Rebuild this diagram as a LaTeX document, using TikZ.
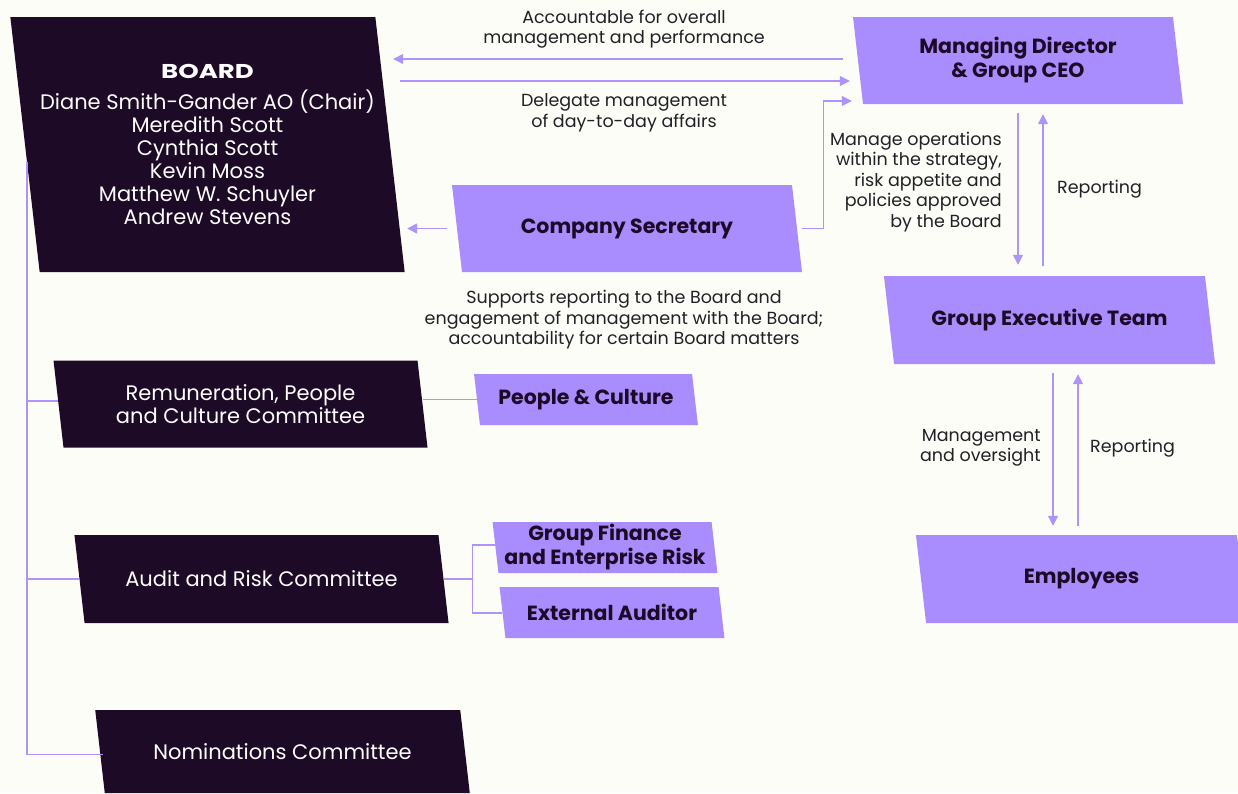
\documentclass[tikz,border=0pt]{standalone}
\usepackage{fontspec}
\setmainfont{Poppins}
\newfontfamily\boardfont[FakeStretch=1.3]{Poppins}
\usetikzlibrary{calc,arrows.meta}
\definecolor{bgc}{HTML}{FDFDF7}
\definecolor{pur}{HTML}{A98CFD}
\definecolor{lin}{HTML}{AE93FD}
\definecolor{drk}{HTML}{1D0A26}
\definecolor{txt}{HTML}{222026}
\newcommand\pbox[7]{%
  \fill[#6] ({#2-#4/2-0.0575*#5},{#3-#5/2}) -- ({#2+#4/2-0.0575*#5},{#3-#5/2})
     -- ({#2+#4/2+0.0575*#5},{#3+#5/2}) -- ({#2-#4/2+0.0575*#5},{#3+#5/2}) -- cycle;
  \node[#6text, minimum width=#4pt, minimum height=#5pt] (#1) at (#2,#3) {#7};}
\tikzset{
  dark/.style={fill=drk},
  light/.style={fill=pur},
  darktext/.style={inner sep=0pt, align=center, text=white, font=\fontsize{21}{23}\selectfont},
  lighttext/.style={inner sep=0pt, align=center, text=drk, font=\fontsize{20.5}{24}\bfseries\selectfont},
  conn/.style={draw=lin, line width=1.4pt},
  arr/.style={conn, -{Triangle[length=10pt,width=10pt]}},
  lbl/.style={inner sep=0pt, text=txt, font=\fontsize{17.5}{20.5}\selectfont},
}
\begin{document}
\begin{tikzpicture}[x=1pt,y=-1pt]
\clip (0,0) rectangle (1238,793);
\fill[bgc] (0,0) rectangle (1238,793);
% boxes
\pbox{board}{207.5}{144.5}{365}{255}{dark}{{\boardfont\fontsize{20}{23}\bfseries\selectfont BOARD}\\[8pt]Diane Smith-Gander AO (Chair)\\Meredith Scott\\Cynthia Scott\\Kevin Moss\\Matthew W. Schuyler\\Andrew Stevens}
\pbox{md}{1018}{60.5}{320}{87}{light}{Managing Director\\\& Group CEO}
\pbox{cs}{627}{228.5}{340}{87}{light}{Company Secretary}
\pbox{get}{1049.5}{320}{321}{88}{light}{Group Executive Team}
\pbox{emp}{1081.5}{579}{321}{88}{light}{Employees}
\pbox{rem}{240.5}{404}{364}{87}{dark}{Remuneration, People\\and Culture Committee}
\pbox{pc}{586}{399.5}{218}{51}{light}{People \& Culture}
\pbox{aud}{261.5}{579}{364}{88}{dark}{Audit and Risk Committee}
\pbox{gf}{605}{547.5}{219}{51}{light}{\fontsize{20.5}{22}\bfseries\selectfont Group Finance\\and Enterprise Risk}
\pbox{ea}{612}{612.5}{219}{51}{light}{External Auditor}
\pbox{nom}{282.5}{751.5}{365}{83}{dark}{Nominations Committee}
% labels
\node[lbl, align=center] (lacc) at (624,29) {Accountable for overall\\management and performance};
\node[lbl, align=center] (ldel) at (624,113) {Delegate management\\of day-to-day affairs};
\node[lbl, align=right, anchor=east] (lman) at (1002,182) {Manage operations\\within the strategy,\\risk appetite and\\policies approved\\by the Board};
\node[lbl, anchor=west] (lrep1) at (1057,189) {Reporting};
\node[lbl, align=center] (lsup) at (624,320) {Supports reporting to the Board and\\engagement of management with the Board;\\accountability for certain Board matters};
\node[lbl, align=right, anchor=east] (lmgt) at (1041,448) {Management\\and oversight};
\node[lbl, anchor=west] (lrep2) at (1090,448) {Reporting};
% connectors
\draw[arr] ($(md.west)+(-15,-1.5)$) -- ($(board.east |- md.west)+(3,-1.5)$);
\draw[arr] ($(board.east |- md.west)+(10,20.5)$) -- ($(md.west)+(-8,20.5)$);
\draw[arr] ($(cs.east)+(5,0)$) -- ++(21,0) |- ($(md.west)+(-6,40.5)$);
\draw[arr] ($(cs.west)+(-10,0)$) -- ($(board.east |- cs.west)+(17,0)$);
\draw[arr] ($(md.south)+(0,9)$) -- ($(md.south |- get.north)+(0,-11)$);
\draw[arr] ($(md.south |- get.north)+(25,-10)$) -- ($(md.south)+(25,10)$);
\draw[arr] ($(get.south)+(3.5,9)$) -- ($(get.south |- emp.north)+(3.5,-9)$);
\draw[arr] ($(get.south |- emp.north)+(28.5,-9)$) -- ($(get.south)+(28.5,10)$);
% tree
\draw[conn] ($(board.west)+(2,17)$) |- ($(nom.west)+(3,3)$);
\draw[conn] ($(board.west |- rem.west)+(2,-3)$) -- ($(rem.west)+(0,-3)$);
\draw[conn] ($(board.west |- aud.west)+(2,0)$) -- (aud.west);
\draw[conn] (pc.west) -- (pc.west -| rem.east);
\draw[conn] (aud.east) -- ++(28.5,0) coordinate (fork);
\draw[conn] ($(gf.west)+(2,-2.5)$) -| (fork) |- ($(ea.west)+(0,0.5)$);
\end{tikzpicture}
\end{document}
